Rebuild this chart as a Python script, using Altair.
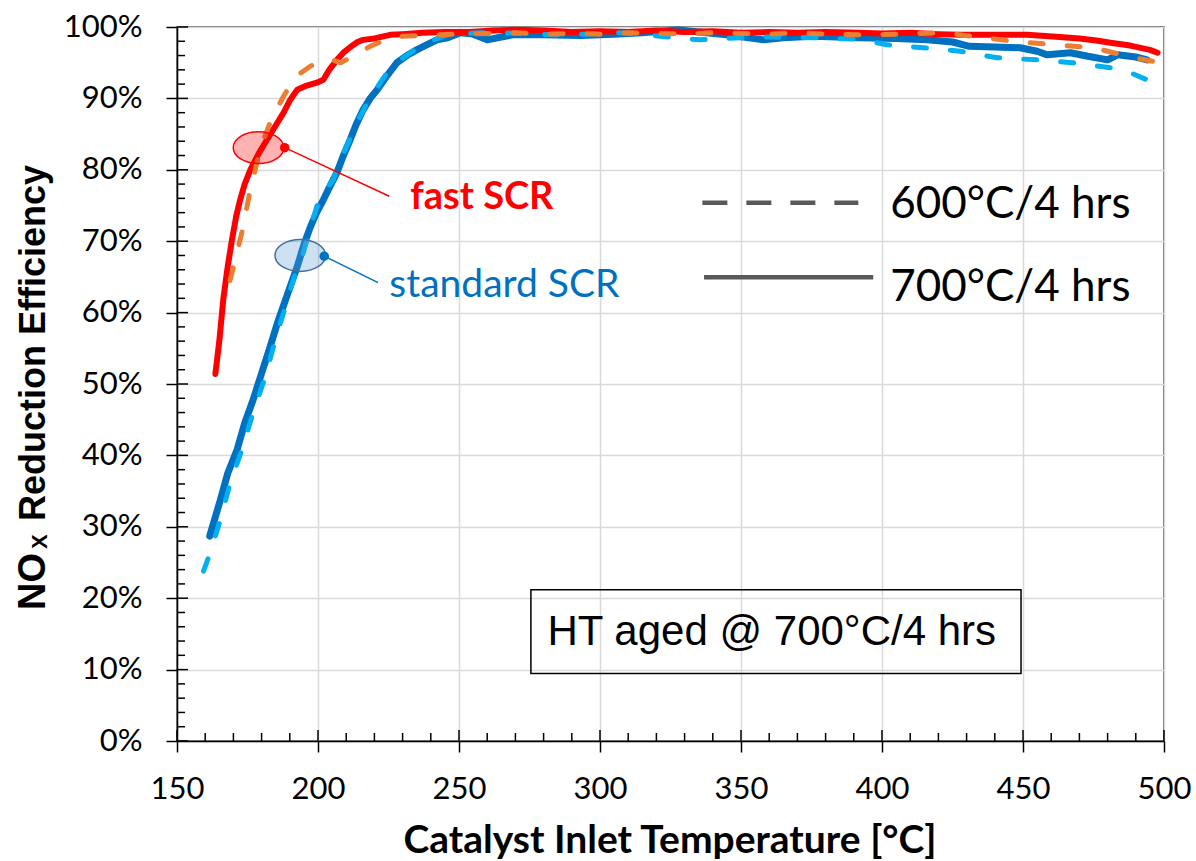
import altair as alt
import pandas as pd

# ---------------- data ----------------
fast700_T = [163.6, 165, 166.4, 168, 169.5, 171, 172.4, 174, 176, 179, 181.9, 185, 187.8, 190, 192.6,
             196, 199.6, 201.9, 204, 206.7, 209, 211.5, 214, 216, 220, 225.6, 230, 237, 245, 254,
             262, 270, 280, 290, 300, 310, 320, 330, 340, 350, 360, 370, 380, 392, 400, 410, 420,
             427.8, 440, 451.5, 463, 470, 476, 481, 488, 495, 497.7]
fast700_V = [51.4, 56, 61.8, 66.5, 70.2, 73.5, 75.8, 78, 80.0, 82.3, 84.2, 86.2, 88.0, 89.7, 91.2,
             91.8, 92.2, 92.6, 94, 95.4, 96.4, 97.2, 97.9, 98.2, 98.4, 98.9, 99.0, 99.2, 99.3, 99.3,
             99.5, 99.6, 99.5, 99.3, 99.4, 99.3, 99.5, 99.3, 99.4, 99.2, 99.3, 99.2, 99.3, 99.2, 99.1,
             99.2, 99.0, 98.9, 98.9, 98.9, 98.6, 98.4, 98.1, 97.8, 97.4, 96.8, 96.4]

fast600_T = [168.8, 171, 173, 176, 178.9, 181, 183, 185.5, 187.8, 191.3, 194, 197.3, 200.8, 205, 208,
             211.5, 215, 218, 222, 230, 240, 250, 260, 270, 280, 290, 300, 310, 320, 330, 340, 350,
             360, 370, 380, 392, 405, 421.8, 436, 449, 462, 475, 487, 496]
fast600_V = [64.5, 68, 71.2, 77.2, 81.9, 84.5, 86.6, 88.6, 90.3, 92.6, 93.6, 94.5, 95.2, 95.4, 95.0,
             95.7, 96.4, 97.2, 97.9, 98.7, 98.9, 99.0, 99.1, 99.2, 99.0, 99.1, 99.0, 99.2, 99.1, 99.0,
             99.2, 99.1, 99.0, 99.2, 99.0, 98.9, 99.0, 99.2, 98.5, 97.9, 97.5, 97.1, 95.9, 95.2]

std700_T = [161.6, 165.4, 168, 171.3, 174, 177, 180, 183.1, 185.5, 187.7, 190, 192.6, 195, 197.3,
            199.5, 201.9, 204, 206.7, 209, 211.4, 213.5, 216, 218.5, 221, 224.5, 228, 231.5, 235,
            238.5, 242.2, 246, 250.5, 255, 260, 265, 269, 280, 293, 305, 315, 328, 335, 345, 358,
            365, 375.6, 392, 405, 416, 425, 431, 440, 449, 455, 458.6, 466.8, 473, 480, 483.5, 490, 494]
std700_V = [28.7, 33.8, 37.5, 40.8, 44.5, 47.8, 51.5, 55.3, 58.4, 60.9, 63.5, 66.4, 69.5, 72.0,
            74, 75.8, 77.5, 79.6, 82, 84.2, 86.3, 88.4, 90, 91.2, 93.2, 95, 96, 96.8,
            97.5, 98.2, 98.5, 99.2, 99.0, 98.2, 98.6, 98.9, 98.9, 98.8, 99.0, 99.2, 99.6, 99.3, 98.9, 98.2,
            98.5, 98.7, 98.5, 98.4, 98.2, 97.9, 97.3, 97.2, 97.1, 96.6, 96.1, 96.4, 95.9, 95.4, 96.1, 95.8, 95.4]

std600_T = [159.4, 161.8, 165.4, 168.9, 173, 177, 181.3, 184.9, 188.4, 192, 194.8, 197, 199.6, 202,
            205.4, 208, 211, 214, 217, 220, 224, 228, 232, 236, 240, 245, 250, 257.5, 265, 270, 283.5,
            295, 307, 314, 321.3, 335.5, 349.7, 360, 375.6, 390, 398.3, 401.8, 414.6, 427.8, 440.8,
            455, 467.6, 481, 488, 494, 496]
std600_V = [23.8, 26.4, 31, 36.2, 40.8, 46, 51, 56.2, 60.8, 65.6, 68.4, 71.5, 74.9, 76.8,
            78.6, 81.5, 84, 86.8, 89, 91, 93.3, 95, 96.2, 97.2, 98, 98.8, 99.0, 99.2, 99.2, 99.1, 98.9,
            99.0, 99.2, 99.0, 98.7, 98.2, 98.5, 98.6, 98.5, 98.3, 97.8, 97.5, 97.1, 96.6, 95.7,
            95.4, 95.0, 94.3, 93.6, 92.6, 92.6]

x_major = [150, 200, 250, 300, 350, 400, 450, 500]
x_minor = [v for v in range(150, 501, 10) if v % 50 != 0]
y_major = [0, 10, 20, 30, 40, 50, 60, 70, 80, 90, 100]
y_minor = [v for v in range(0, 101, 2) if v % 10 != 0]

# annotation anchors (data coordinates)
ell_names = ["fast SCR", "standard SCR"]
ell_T = [178.9, 193.7]
ell_V = [83.1, 68.0]
dot_T = [188.2, 202.2]
dot_V = [83.1, 67.9]
lab_T = [225.3, 221.3]
lab_V = [76.3, 64.2]
txt_T = [232.7, 225.3]
txt_V = [76.1, 63.9]

legend_labels = ["600°C/4 hrs", "700°C/4 hrs"]
leg_T1 = [336.3, 336.9]
leg_T2 = [391.6, 396.9]
leg_V = [75.4, 64.95]
leg_text_T = 402.9
leg_text_V = [75.1, 63.5]

box_text = "HT aged @ 700°C/4 hrs"
box_T = [275.5, 449.3]
box_V = [9.46, 21.2]
box_text_T = 360.9

# ---------------- chart ----------------
W, H = 987, 714
xs = alt.Scale(domain=[150, 500], nice=False, zero=False)
ys = alt.Scale(domain=[0, 100], nice=False, zero=False)

xaxis = alt.Axis(values=x_major, grid=True, gridColor="#D9D9D9", gridWidth=1.5,
                 domainColor="black", domainWidth=1.5, tickColor="black", tickWidth=1.5,
                 tickSize=11, labelFont="Lato", labelFontSize=31, labelColor="black",
                 labelPadding=22, labelFlush=False, title=None)
yaxis = alt.Axis(values=y_major, grid=True, gridColor="#D9D9D9", gridWidth=1.5,
                 domainColor="black", domainWidth=1.5, tickColor="black", tickWidth=1.5,
                 tickSize=11, labelFont="Lato", labelFontSize=31, labelColor="black",
                 labelPadding=24, labelFlush=False, labelExpr="datum.value + '%'", title=None)


def X(f):
    return alt.X(f, type="quantitative", scale=xs, axis=xaxis, title=None)


def Y(f):
    return alt.Y(f, type="quantitative", scale=ys, axis=yaxis, title=None)


def series(T, V):
    return pd.DataFrame({"T": T, "V": V, "i": list(range(len(T)))})


def line(T, V, color, width, dash=None):
    kw = dict(color=color, strokeWidth=width, strokeCap="round", strokeJoin="round")
    if dash:
        kw["strokeDash"] = dash
    return alt.Chart(series(T, V)).mark_line(**kw).encode(
        x=X("T"), y=Y("V"), order="i:Q")


# inward ticks
xt = pd.DataFrame({"v": x_minor})
xtM = pd.DataFrame({"v": x_major})
yt = pd.DataFrame({"v": y_minor})
ytM = pd.DataFrame({"v": y_major})
ticks = [
    alt.Chart(xt).mark_rule(color="black", strokeWidth=1.5).encode(
        x=X("v"), y=alt.value(H - 8), y2=alt.value(H)),
    alt.Chart(xtM).mark_rule(color="black", strokeWidth=1.5).encode(
        x=X("v"), y=alt.value(H - 11), y2=alt.value(H)),
    alt.Chart(yt).mark_rule(color="black", strokeWidth=1.5).encode(
        y=Y("v"), x=alt.value(0), x2=alt.value(8)),
    alt.Chart(ytM).mark_rule(color="black", strokeWidth=1.5).encode(
        y=Y("v"), x=alt.value(0), x2=alt.value(11)),
]

lines = [
    line(std700_T, std700_V, "#0070C0", 7),
    line(fast700_T, fast700_V, "#FF0000", 6),
    line(std600_T, std600_V, "#00B0F0", 5, [13, 24]),
    line(fast600_T, fast600_V, "#ED7D31", 5, [13, 24]),
]

ellipse_path = "M -1 0 A 1 0.63 0 1 1 1 0 A 1 0.63 0 1 1 -1 0 Z"
ann = pd.DataFrame({"name": ell_names, "eT": ell_T, "eV": ell_V, "dT": dot_T, "dV": dot_V,
                    "lT": lab_T, "lV": lab_V, "tT": txt_T, "tV": txt_V})
color_scale = alt.Scale(domain=ell_names, range=["#FF0000", "#0070C0"])
fill_scale = alt.Scale(domain=ell_names, range=["#FF0000", "#5B9BD5"])
stroke_scale = alt.Scale(domain=ell_names, range=["#FF0000", "#41719C"])

annotations = [
    alt.Chart(ann).mark_point(shape=ellipse_path, filled=True, fillOpacity=0.3, strokeWidth=1.5,
                              strokeOpacity=1).encode(
        x=X("eT"), y=Y("eV"),
        fill=alt.Fill("name:N", scale=fill_scale, legend=None),
        stroke=alt.Stroke("name:N", scale=stroke_scale, legend=None),
        size=alt.value(2550)),
    alt.Chart(ann).mark_rule(strokeWidth=1.5).encode(
        x=X("dT"), y=Y("dV"), x2="lT", y2="lV",
        color=alt.Color("name:N", scale=color_scale, legend=None)),
    alt.Chart(ann).mark_point(filled=True, opacity=1, size=90).encode(
        x=X("dT"), y=Y("dV"),
        color=alt.Color("name:N", scale=color_scale, legend=None)),
    alt.Chart(ann[ann["name"] == "fast SCR"]).mark_text(
        align="left", baseline="middle", font="Lato", fontWeight="bold", fontSize=38,
        color="#FF0000").encode(x=X("tT"), y=Y("tV"), text="name:N"),
    alt.Chart(ann[ann["name"] == "standard SCR"]).mark_text(
        align="left", baseline="middle", font="Lato", fontSize=39,
        color="#0070C0").encode(x=X("tT"), y=Y("tV"), text="name:N"),
]

leg = pd.DataFrame({"label": legend_labels, "T1": leg_T1, "T2": leg_T2, "V": leg_V,
                    "tT": leg_text_T, "tV": leg_text_V})
legend = [
    alt.Chart(leg.iloc[[0]]).mark_rule(color="#595959", strokeWidth=4.5, strokeDash=[25, 19]).encode(
        x=X("T1"), x2="T2", y=Y("V")),
    alt.Chart(leg.iloc[[1]]).mark_rule(color="#595959", strokeWidth=4.5).encode(
        x=X("T1"), x2="T2", y=Y("V")),
    alt.Chart(leg).mark_text(align="left", baseline="middle", font="Lato", fontSize=44,
                             color="black").encode(x=X("tT"), y=Y("tV"), text="label:N"),
]

box = pd.DataFrame({"T1": [box_T[0]], "T2": [box_T[1]], "V1": [box_V[0]], "V2": [box_V[1]],
                    "t": [box_text], "cT": [box_text_T], "cV": [(box_V[0] + box_V[1]) / 2]})
boxes = [
    alt.Chart(box).mark_rect(fillOpacity=0, stroke="black", strokeWidth=1.5).encode(
        x=X("T1"), x2="T2", y=Y("V1"), y2="V2"),
    alt.Chart(box).mark_text(align="center", baseline="middle", font="Liberation Sans", fontSize=42,
                             color="black").encode(x=X("cT"), y=Y("cV"), text="t:N"),
]

# axis titles (placed in pixels relative to plot area)
titles = [
    alt.Chart(pd.DataFrame({"t": ["Catalyst Inlet Temperature [°C]"]})).mark_text(
        align="center", baseline="middle", font="Lato", fontWeight="bold", fontSize=39,
        color="black").encode(x=alt.value(493), y=alt.value(814), text="t:N"),
    alt.Chart(pd.DataFrame({"t": ["NO"]})).mark_text(
        align="left", baseline="alphabetic", angle=270, font="Liberation Sans", fontWeight="bold",
        fontSize=38, color="black").encode(x=alt.value(-132), y=alt.value(583), text="t:N"),
    alt.Chart(pd.DataFrame({"t": ["X"]})).mark_text(
        align="left", baseline="alphabetic", angle=270, font="Liberation Sans", fontWeight="bold",
        fontSize=22, color="black").encode(x=alt.value(-130), y=alt.value(522), text="t:N"),
    alt.Chart(pd.DataFrame({"t": ["Reduction Efficiency"]})).mark_text(
        align="left", baseline="alphabetic", angle=270, font="Liberation Sans", fontWeight="bold",
        fontSize=36, color="black").encode(x=alt.value(-132), y=alt.value(494), text="t:N"),
]

chart = alt.layer(*ticks, *lines, *annotations, *legend, *boxes, *titles).properties(
    width=W, height=H,
    autosize=alt.AutoSizeParams(type="none"),
    padding={"left": 177, "top": 27, "right": 32, "bottom": 120},
    background="white",
).configure_view(stroke="#404040", strokeWidth=1.5)

chart.save("out.html", embed_options={"renderer": "svg", "actions": False})
